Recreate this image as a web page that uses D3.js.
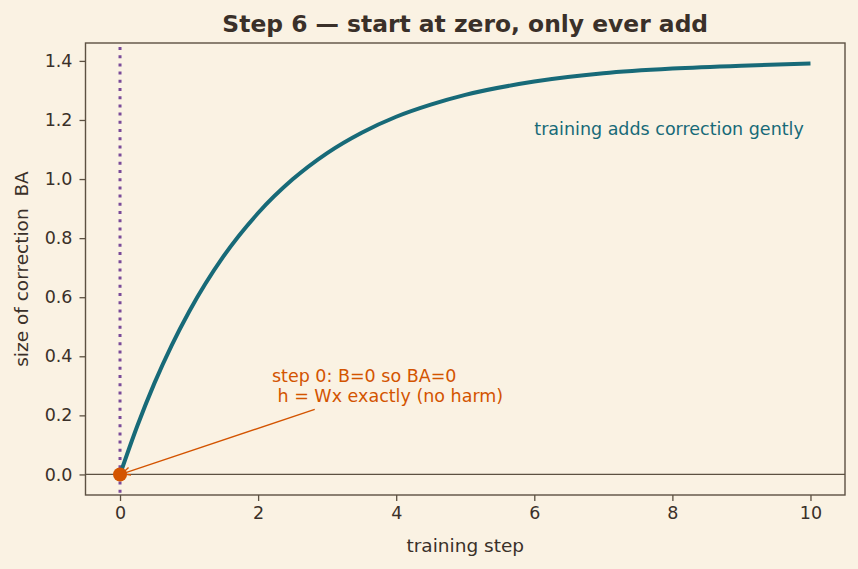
<!DOCTYPE html>
<html>
<head>
<meta charset="utf-8">
<script src="https://cdn.jsdelivr.net/npm/d3@7"></script>
<style>
  body { margin: 0; background: #faf2e3; }
  svg { display: block; font-family: "DejaVu Sans", sans-serif; }
</style>
</head>
<body>
<div id="chart"></div>
<script>
// page set up
const FRAME_WIDTH = 858;
const FRAME_HEIGHT = 569;
const MARGINS = {left: 85.5, right: 13, top: 43, bottom: 74};
const VIS_WIDTH = FRAME_WIDTH - MARGINS.left - MARGINS.right;
const VIS_HEIGHT = FRAME_HEIGHT - MARGINS.top - MARGINS.bottom;

// data
const STEPS = [0, 0.25, 0.5, 0.75, 1, 1.5, 2, 2.5, 3, 3.5, 4, 4.5, 5, 6, 7, 8, 9, 10];
const CORRECTION = [0, 0.164, 0.310, 0.438, 0.551, 0.739, 0.885, 0.999, 1.088, 1.157, 1.211, 1.252, 1.285, 1.330, 1.358, 1.374, 1.384, 1.391];
const X_TICKS = [0, 2, 4, 6, 8, 10];
const Y_TICKS = [0.0, 0.2, 0.4, 0.6, 0.8, 1.0, 1.2, 1.4];

const INK = "#3a3029";
const AXIS = "#5c5142";
const TEAL = "#176a78";
const ORANGE = "#d35400";
const PURPLE = "#7a4b99";

const FRAME = d3.select("#chart")
  .append("svg")
  .attr("width", FRAME_WIDTH)
  .attr("height", FRAME_HEIGHT);

FRAME.append("rect")
  .attr("width", FRAME_WIDTH).attr("height", FRAME_HEIGHT)
  .attr("fill", "#faf2e3");

const X_SCALE = d3.scaleLinear().domain([-0.5, 10.5]).range([0, VIS_WIDTH]);
const Y_SCALE = d3.scaleLinear().domain([-0.0696, 1.4606]).range([VIS_HEIGHT, 0]);

const G = FRAME.append("g")
  .attr("transform", "translate(" + MARGINS.left + "," + MARGINS.top + ")");

// zero line
G.append("line")
  .attr("x1", 0).attr("x2", VIS_WIDTH)
  .attr("y1", Y_SCALE(0)).attr("y2", Y_SCALE(0))
  .attr("stroke", AXIS).attr("stroke-width", 1.3);

// dotted line at step 0
G.append("line")
  .attr("x1", X_SCALE(0)).attr("x2", X_SCALE(0))
  .attr("y1", 4).attr("y2", VIS_HEIGHT)
  .attr("stroke", PURPLE).attr("stroke-width", 3)
  .attr("stroke-dasharray", "3,5.2");

// the curve
const pts = STEPS.map((s, i) => ({x: s, y: CORRECTION[i]}));
G.append("path")
  .datum(pts)
  .attr("fill", "none")
  .attr("stroke", TEAL)
  .attr("stroke-width", 4)
  .attr("d", d3.line()
    .x((d) => X_SCALE(d.x))
    .y((d) => Y_SCALE(d.y))
    .curve(d3.curveMonotoneX));

// point at zero
G.append("circle")
  .attr("cx", X_SCALE(0)).attr("cy", Y_SCALE(0))
  .attr("r", 7).attr("fill", ORANGE);

// annotation arrow
const ax0 = X_SCALE(2.82), ay0 = Y_SCALE(0.22);
const ax1 = X_SCALE(0.03), ay1 = Y_SCALE(0.002);
G.append("line")
  .attr("x1", ax0).attr("y1", ay0).attr("x2", ax1).attr("y2", ay1)
  .attr("stroke", ORANGE).attr("stroke-width", 1.4);
const ang = Math.atan2(ay0 - ay1, ax0 - ax1);
const hl = 9, hw = 0.45;
G.append("path")
  .attr("d", "M" + (ax1 + hl * Math.cos(ang - hw)) + "," + (ay1 + hl * Math.sin(ang - hw)) +
    "L" + ax1 + "," + ay1 +
    "L" + (ax1 + hl * Math.cos(ang + hw)) + "," + (ay1 + hl * Math.sin(ang + hw)))
  .attr("fill", "none").attr("stroke", ORANGE).attr("stroke-width", 1.4);

const note = G.append("text")
  .attr("fill", ORANGE).attr("font-size", 17.5);
note.append("tspan").attr("x", X_SCALE(2.2)).attr("y", 381.5 - MARGINS.top).text("step 0: B=0 so BA=0");
note.append("tspan").attr("x", X_SCALE(2.2)).attr("y", 402 - MARGINS.top).text("\u00a0h = Wx exactly (no harm)");

G.append("text")
  .attr("x", X_SCALE(6)).attr("y", Y_SCALE(1.15))
  .attr("fill", TEAL).attr("font-size", 17.5)
  .text("training adds correction gently");

// axes
const xAxis = G.append("g")
  .attr("transform", "translate(0," + VIS_HEIGHT + ")")
  .call(d3.axisBottom(X_SCALE).tickValues(X_TICKS).tickFormat(d3.format("d")).tickSizeOuter(0).tickSize(6).tickPadding(6));
const yAxis = G.append("g")
  .call(d3.axisLeft(Y_SCALE).tickValues(Y_TICKS).tickFormat(d3.format(".1f")).tickSizeOuter(0).tickSize(6).tickPadding(7));
[xAxis, yAxis].forEach((a) => {
  a.select(".domain").remove();
  a.attr("font-size", null).attr("font-family", null);
  a.selectAll("line").attr("stroke", AXIS).attr("stroke-width", 1.3);
  a.selectAll("text").attr("fill", INK).style("font-size", "17.5px");
});

// frame
G.append("rect")
  .attr("width", VIS_WIDTH).attr("height", VIS_HEIGHT)
  .attr("fill", "none").attr("stroke", AXIS).attr("stroke-width", 1.4);

// labels
FRAME.append("text")
  .attr("x", MARGINS.left + VIS_WIDTH / 2).attr("y", 32)
  .attr("text-anchor", "middle")
  .attr("fill", INK).attr("font-size", 23.4).attr("font-weight", "bold")
  .text("Step 6 \u2014 start at zero, only ever add");

FRAME.append("text")
  .attr("x", MARGINS.left + VIS_WIDTH / 2).attr("y", 552)
  .attr("text-anchor", "middle")
  .attr("fill", INK).attr("font-size", 18.5)
  .text("training step");

FRAME.append("text")
  .attr("transform", "translate(28," + (MARGINS.top + VIS_HEIGHT / 2) + ") rotate(-90)")
  .attr("text-anchor", "middle")
  .attr("fill", INK).attr("font-size", 18.5)
  .text("size of correction\u00a0 BA");
</script>
</body>
</html>
